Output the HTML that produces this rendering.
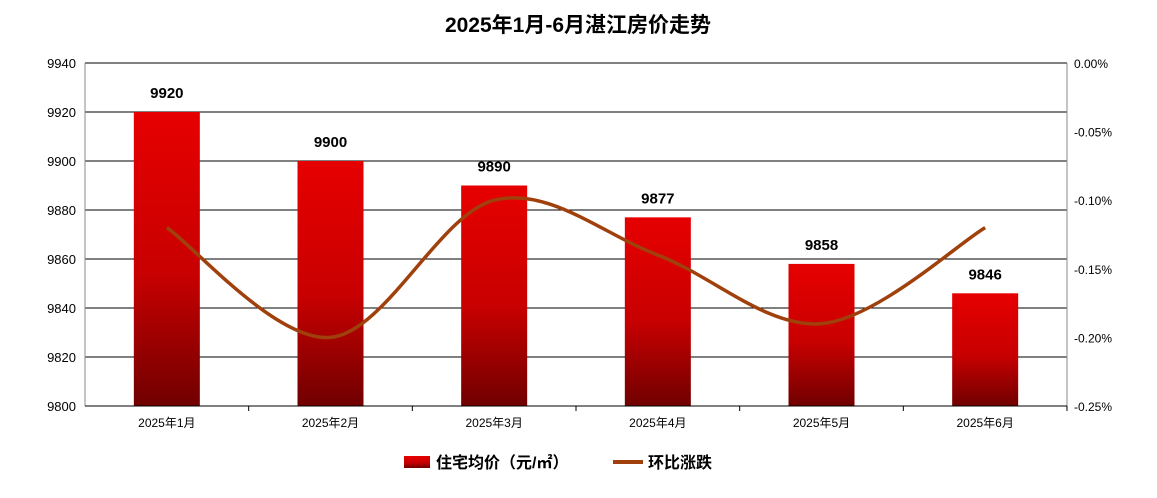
<!DOCTYPE html>
<html><head><meta charset="utf-8"><style>
body{margin:0;background:#fff;}
svg text{font-family:"Liberation Sans","Noto Sans CJK SC",sans-serif;}
</style></head><body>
<svg id="c" width="1157" height="493" xmlns="http://www.w3.org/2000/svg">
<defs><linearGradient id="g" x1="0" y1="0" x2="0" y2="1"><stop offset="0" stop-color="#e60000"/><stop offset="0.55" stop-color="#c80000"/><stop offset="1" stop-color="#700000"/></linearGradient></defs>
<text x="578" y="32" text-anchor="middle" font-size="21" font-weight="bold">2025年1月-6月湛江房价走势</text>
<g id="grid"></g><g id="bars"></g><g id="line"></g><g id="axes"></g>
<g>
<rect x="404" y="456" width="26" height="12" fill="url(#g)"/>
<text x="436" y="468" font-size="16" font-weight="bold">住宅均价（元/㎡）</text>
<line x1="613" y1="462" x2="643" y2="462" stroke="#a0400c" stroke-width="4"/>
<text x="648" y="468" font-size="16" font-weight="bold">环比涨跌</text>
</g>
</svg>
<script>
const categories=["2025年1月","2025年2月","2025年3月","2025年4月","2025年5月","2025年6月"];
const prices=[9920,9900,9890,9877,9858,9846];
const changes=[-0.12,-0.20,-0.10,-0.14,-0.19,-0.12];
const leftTicks=[9800,9820,9840,9860,9880,9900,9920,9940];
const rightTicks=[0,-0.05,-0.10,-0.15,-0.20,-0.25];
const L=85,R=1067,T=63,B=406,NS="http://www.w3.org/2000/svg";
const yL=v=>B-(v-9800)/140*(B-T);
const yR=v=>T+(-v)/0.25*(B-T);
const bw=(R-L)/categories.length;
const xC=i=>L+bw*(i+0.5);
function mk(t,a,p){const e=document.createElementNS(NS,t);for(const k in a)e.setAttribute(k,a[k]);document.getElementById(p).appendChild(e);return e;}
leftTicks.forEach(v=>{
 if(v>9800){const l=mk('line',{x1:L,x2:R,y1:yL(v),y2:yL(v),stroke:'#000','stroke-width':1},'grid');
 
 }
 const t=mk('text',{x:76,y:yL(v)+5,'text-anchor':'end','font-size':13},'axes');t.textContent=v;
 
 
});
rightTicks.forEach(v=>{
 const t=mk('text',{x:1074,y:yR(v)+5,'font-size':12},'axes');t.textContent=v.toFixed(2)+'%';
 
 
});
mk('line',{x1:L,x2:L,y1:T,y2:B,stroke:'#888'},'axes');
mk('line',{x1:R,x2:R,y1:T,y2:B,stroke:'#888'},'axes');
mk('line',{x1:L,x2:R,y1:B,y2:B,stroke:'#000'},'axes');
categories.forEach((c,i)=>{
 const t=mk('text',{x:xC(i),y:427,'text-anchor':'middle','font-size':12},'axes');t.textContent=c;
 
 
 const tk=mk('line',{x1:L+bw*(i+1),x2:L+bw*(i+1),y1:B,y2:B+5,stroke:'#000'},'axes');
 const b=mk('rect',{x:xC(i)-33,y:yL(prices[i]),width:66,height:B-yL(prices[i]),fill:'url(#g)'},'bars');
 
 
 const lb=mk('text',{x:xC(i),y:yL(prices[i])-14,'text-anchor':'middle','font-size':15,'font-weight':'bold'},'bars');lb.textContent=prices[i];
 
 
});
const pts=changes.map((v,i)=>[xC(i),yR(v)]);
let d='M'+pts[0][0]+','+pts[0][1];
for(let i=0;i<pts.length-1;i++){
 const p0=pts[Math.max(0,i-1)],p1=pts[i],p2=pts[i+1],p3=pts[Math.min(pts.length-1,i+2)];
 const k=1/6;
 d+=` C${p1[0]+(p2[0]-p0[0])*k},${p1[1]+(p2[1]-p0[1])*k} ${p2[0]-(p3[0]-p1[0])*k},${p2[1]-(p3[1]-p1[1])*k} ${p2[0]},${p2[1]}`;
}
const ln=mk('path',{d:d,fill:'none',stroke:'#a0400c','stroke-width':3.5},'line');


</script>
</body></html>
